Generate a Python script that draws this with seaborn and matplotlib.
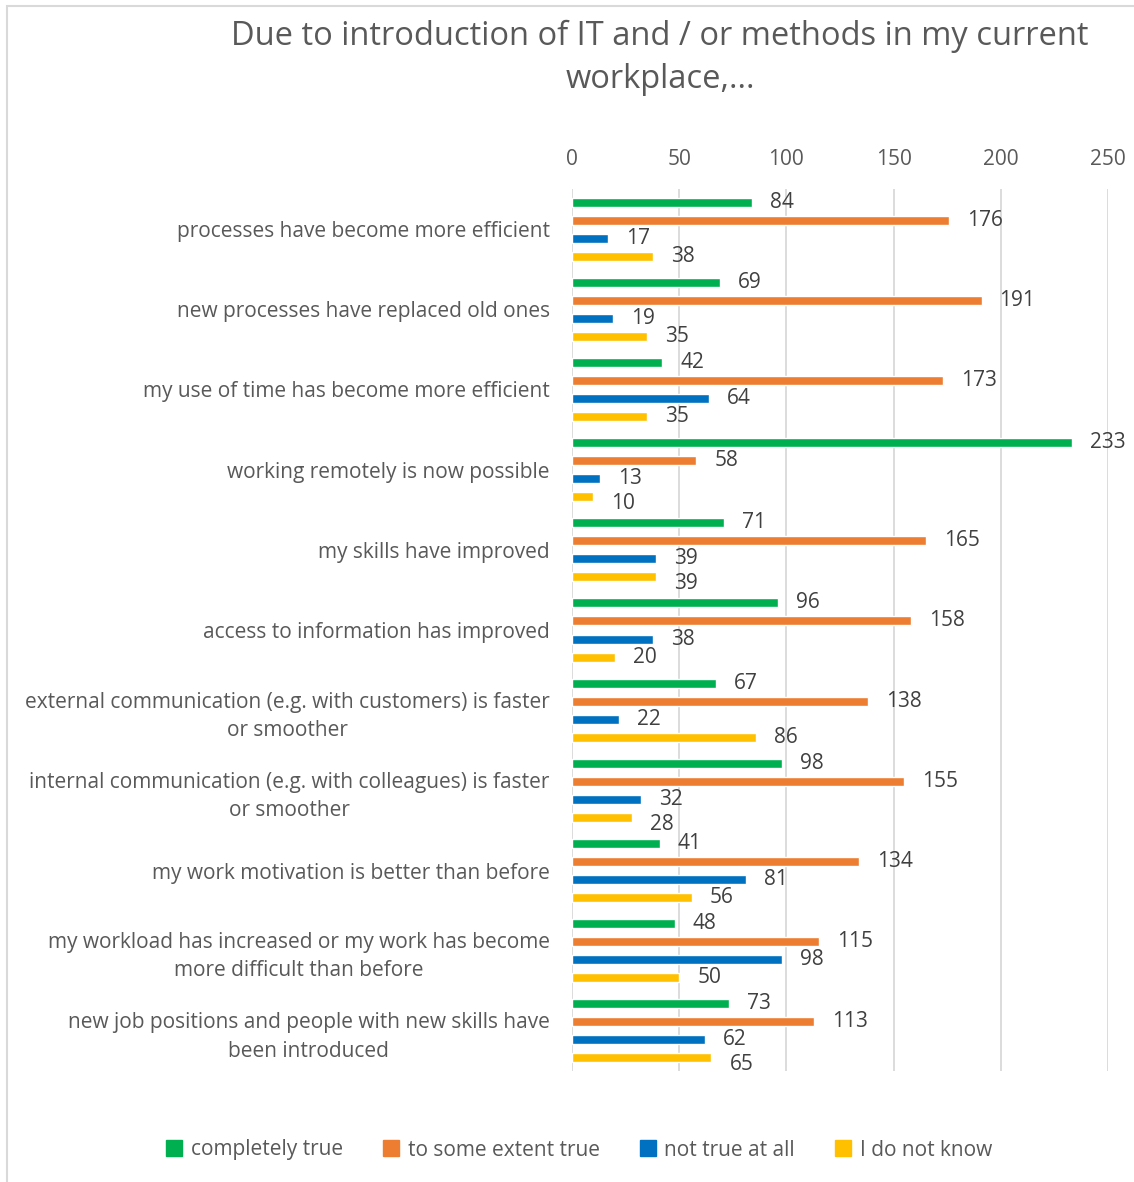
import numpy as np
import pandas as pd
import matplotlib
matplotlib.use("Agg")
import matplotlib.pyplot as plt
from matplotlib.patches import Rectangle
from matplotlib.lines import Line2D
import seaborn as sns

categories = [
    "processes have become more efficient",
    "new processes have replaced old ones",
    "my use of time has become more efficient",
    "working remotely is now possible",
    "my skills have improved",
    "access to information has improved",
    "external communication (e.g. with customers) is faster\nor smoother",
    "internal communication (e.g. with colleagues) is faster\nor smoother",
    "my work motivation is better than before",
    "my workload has increased or my work has become\nmore difficult than before",
    "new job positions and people with new skills have\nbeen introduced",
]
answers = ["completely true", "to some extent true", "not true at all", "I do not know"]
completely_true = [84, 69, 42, 233, 71, 96, 67, 98, 41, 48, 73]
some_extent_true = [176, 191, 173, 58, 165, 158, 138, 155, 134, 115, 113]
not_true = [17, 19, 64, 13, 39, 38, 22, 32, 81, 98, 62]
do_not_know = [38, 35, 35, 10, 39, 20, 86, 28, 56, 50, 65]
x_ticks = [0, 50, 100, 150, 200, 250]
colors = ["#00B050", "#ED7D31", "#0070C0", "#FFC000"]
title = "Due to introduction of IT and / or methods in my current\nworkplace,..."

series = [completely_true, some_extent_true, not_true, do_not_know]
df = pd.DataFrame({
    "category": np.repeat([categories], len(answers), axis=0).ravel(),
    "answer": np.repeat(answers, len(categories)),
    "value": np.concatenate(series),
})

sns.set_theme(style="white")
plt.rcParams["font.family"] = ["Open Sans", "DejaVu Sans"]

W, H = 1134, 1182
fig = plt.figure(figsize=(W / 100, H / 100), dpi=100)
ax = fig.add_axes([572 / W, 1 - 1071 / H, (1108 - 572) / W, (1071 - 189) / H])

sns.barplot(data=df, y="category", x="value", hue="answer", order=categories,
            hue_order=answers, palette=colors, orient="h", width=0.9, gap=0.5,
            ax=ax, legend=False, saturation=1)

ax.set_xlim(0, 250)
ax.set_xticks(x_ticks)
ax.xaxis.tick_top()
ax.tick_params(axis="x", length=0, pad=14, labelsize=15, labelcolor="#595959")
ax.tick_params(axis="y", length=0, pad=16, labelsize=15, labelcolor="#595959")
for lbl in ax.get_yticklabels():
    lbl.set_multialignment("center")
    lbl.set_linespacing(1.45)
ax.set_xlabel("")
ax.set_ylabel("")
ax.grid(axis="x", color="#D9D9D9", linewidth=1.3)
ax.set_axisbelow(True)
for s in ax.spines.values():
    s.set_visible(False)

# value labels to the right of each bar
labels = []
for cont in ax.containers:
    for bar in cont:
        v = bar.get_width()
        ann = ax.annotate(f"{v:.0f}", (v, bar.get_y() + bar.get_height() / 2),
                          xytext=(13, 0), textcoords="offset points",
                          va="center", ha="left", fontsize=15, color="#404040")
        labels.append(ann)

# push colliding value labels downward so each one stays readable
fig.canvas.draw()
renderer = fig.canvas.get_renderer()
px_to_pt = 72.0 / fig.dpi
labels.sort(key=lambda a: -a.get_window_extent(renderer).y1)
placed = []
for ann in labels:
    bb = ann.get_window_extent(renderer)
    shift = 0.0
    for pb in placed:
        if bb.x0 < pb.x1 and bb.x1 > pb.x0 and bb.y1 - shift > pb.y0:
            shift = max(shift, bb.y1 - pb.y0 + 4)
    if shift > 0:
        ann.xyann = (13, -shift * px_to_pt)
        bb = ann.get_window_extent(renderer)
    placed.append(bb)

fig.text(660 / W, 1 - 58 / H, title, ha="center", va="center",
         fontsize=23.5, color="#595959", linespacing=1.4)

handles = [Line2D([], [], marker="s", linestyle="none", markersize=11,
                  markerfacecolor=c, markeredgecolor=c) for c in colors]
fig.legend(handles, answers, loc="center", bbox_to_anchor=(579 / W, 1 - 1150 / H),
           ncol=4, frameon=False, fontsize=15, labelcolor="#595959",
           handletextpad=0.4, columnspacing=1.9, handlelength=0.8)

# chart frame
fig.patches.append(Rectangle((7 / W, -0.1), 1.2, 1.1 - 6 / H,
                             transform=fig.transFigure, fill=False,
                             edgecolor="#D9D9D9", linewidth=1.5))

fig.savefig("out.png", dpi=100, facecolor="white")
